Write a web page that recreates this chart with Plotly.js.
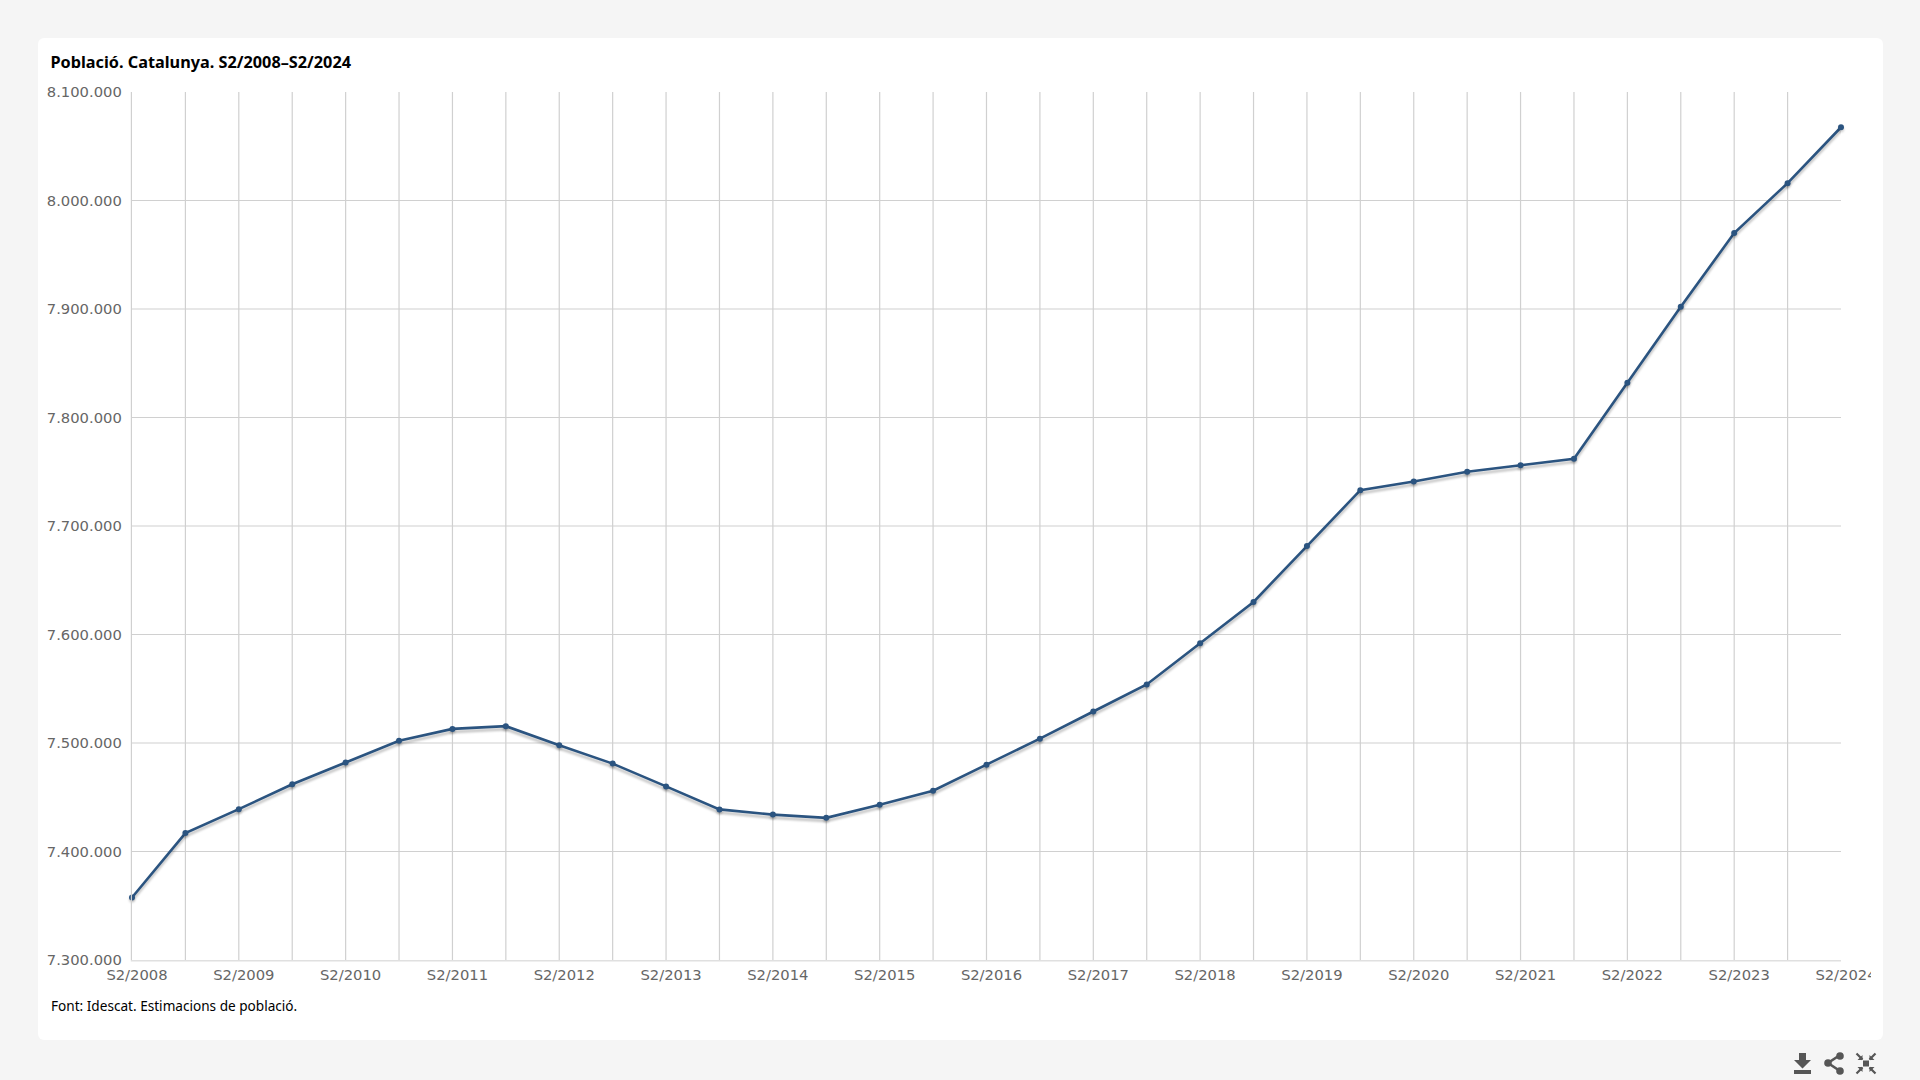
<!DOCTYPE html>
<html>
<head>
<meta charset="utf-8">
<script src="https://cdn.plot.ly/plotly-3.0.1.min.js"></script>
<style>
html,body{margin:0;padding:0;width:1920px;height:1080px;background:#f5f5f5;overflow:hidden}
#card{position:absolute;left:38px;top:38px;width:1845px;height:1002px;background:#fff;border-radius:6px}
#chart{position:absolute;left:0;top:0;width:1871px;height:1080px;overflow:hidden}
#icons{position:absolute;left:1790px;top:1050px}
.scatterlayer .js-line{filter:drop-shadow(0 3px 1.2px rgba(0,0,0,.24))}
.scatterlayer .points path{filter:drop-shadow(0 2px 1px rgba(0,0,0,.2))}
.gridlayer path,.xlines-above,.ylines-above,.xlines-below,.ylines-below{shape-rendering:geometricPrecision !important}
</style>
</head>
<body>
<div id="card"></div>
<div id="chart"></div>
<svg id="icons" width="92" height="27" viewBox="0 0 92 27" fill="#565656" stroke="none">
  <path d="M9 3h7v7h5l-8.500 8.500L4 10h5z"/><rect x="4" y="20" width="17" height="4"/>
  <path d="M50 5L38 13l12 8" fill="none" stroke="#565656" stroke-width="2.600"/>
  <circle cx="50" cy="6" r="3.800"/><circle cx="38" cy="13" r="3.800"/><circle cx="50" cy="21" r="3.800"/>
  <rect x="73" y="10.500" width="6" height="6"/>
  <path d="M66.500 3.500l6 6M85.500 3.500l-6 6M66.500 23.500l6-6M85.500 23.500l-6-6" fill="none" stroke="#565656" stroke-width="2.200"/>
  <path d="M72.500 10V5L67.500 10zM79.500 10V5L84.500 10zM72.500 17v5L67.500 17zM79.500 17v5L84.500 17z"/>
</svg>
<script>
const categories = ["S2/2008","S1/2009","S2/2009","S1/2010","S2/2010","S1/2011","S2/2011","S1/2012","S2/2012","S1/2013","S2/2013","S1/2014","S2/2014","S1/2015","S2/2015","S1/2016","S2/2016","S1/2017","S2/2017","S1/2018","S2/2018","S1/2019","S2/2019","S1/2020","S2/2020","S1/2021","S2/2021","S1/2022","S2/2022","S1/2023","S2/2023","S1/2024","S2/2024"];
const population = [7357600,7417000,7439000,7462000,7482000,7502000,7513000,7515500,7498000,7481000,7460000,7438800,7434000,7431000,7443000,7456000,7480000,7504000,7529000,7554000,7592000,7630000,7681500,7733000,7741000,7750000,7756000,7762000,7832000,7902000,7970000,8016000,8067500];
const yTicks = [7300000,7400000,7500000,7600000,7700000,7800000,7900000,8000000,8100000];
const xLabels = categories.map(c => c.startsWith("S2/") ? c : "");
const chartTitle = "Població. Catalunya. S2/2008–S2/2024";
const sourceNote = "Font: Idescat. Estimacions de població.";

const W = 1871, L = 131.5, R = 29.7, T = 92, B = 120.3;
const plotW = W - L - R;
const tickFont = {family:"'DejaVu Sans',sans-serif", size:14.75, color:"#666666"};

Plotly.newPlot("chart", [{
  type:"scatter", mode:"lines+markers", x:categories, y:population,
  line:{color:"#2b5480", width:2.600},
  marker:{color:"#2b5480", size:6},
  cliponaxis:false, hoverinfo:"x+y"
}], {
  width:W, height:1080,
  paper_bgcolor:"rgba(0,0,0,0)", plot_bgcolor:"rgba(0,0,0,0)",
  margin:{l:L, r:R, t:T, b:B, pad:0},
  separators:",.",
  showlegend:false,
  title:{text:chartTitle, font:{family:"'Noto Sans',sans-serif", size:16.25, weight:700, color:"#000"},
         xref:"container", x:50.5/W, xanchor:"left", yref:"container", y:1-62.5/1080, yanchor:"middle", pad:{l:0,r:0,t:0,b:0}},
  xaxis:{type:"category", categoryorder:"array", categoryarray:categories, range:[0,categories.length-1],
         tickmode:"array", tickvals:categories, ticktext:xLabels, tickangle:0, ticks:"", ticklen:0,
         tickfont:tickFont, ticklabelshift:5, ticklabeloverflow:"allow", ticklabelstandoff:1,
         showgrid:true, gridcolor:"#d0d0d0", gridwidth:1.200,
         showline:true, linecolor:"#e0e0e0", linewidth:1.500, zeroline:false, automargin:false, fixedrange:true},
  yaxis:{range:[7300000,8100000], tickmode:"array", tickvals:yTicks, tickformat:",d", ticks:"",
         tickfont:tickFont, ticklabelstandoff:6,
         showgrid:true, gridcolor:"#d0d0d0", gridwidth:1.200,
         showline:true, linecolor:"#d0d0d0", linewidth:1.200, zeroline:false, automargin:false, fixedrange:true},
  annotations:[{text:sourceNote, xref:"paper", yref:"paper", x:(50.5-L)/plotW, y:-(1005-(1080-B))/(1080-T-B),
                xanchor:"left", yanchor:"middle", showarrow:false, xshift:-2,
                font:{family:"'Noto Sans',sans-serif", size:13.6, color:"#000"}}]
}, {displayModeBar:false, staticPlot:true});
</script>
</body>
</html>
